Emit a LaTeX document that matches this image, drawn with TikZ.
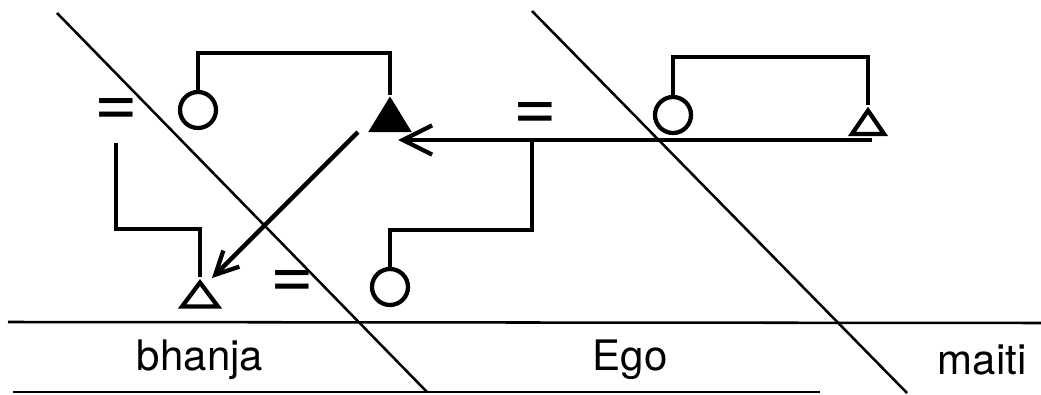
\documentclass[tikz,border=0pt]{standalone}
\usepackage{fontspec}
\setmainfont{TeX Gyre Heros}
\usetikzlibrary{shapes.geometric,arrows.meta}
\tikzset{
  female/.style = {circle, draw, line width=3.2pt, minimum size=27pt, inner sep=0pt},
  male/.style = {isosceles triangle, isosceles triangle stretches, shape border rotate=90,
    draw, line width=3.2pt, inner sep=0pt, anchor=apex},
  kin/.style = {line width=3.2pt},
  zone/.style = {line width=1.9pt},
  marr/.style = {inner sep=0pt, font=\fontsize{56}{56}\selectfont},
  lbl/.style = {inner sep=0pt, font=\fontsize{31.5}{32}\selectfont},
  barb/.style = {-{Straight Barb[length=#1, width=#1, line width=3.2pt]}}
}
\begin{document}
\begin{tikzpicture}[x=0.75pt, y=-0.75pt]
			\useasboundingbox (0,0) rectangle (1041,395);
			\draw[zone] (57,13) -- (427,392);
			\draw[zone] (532,11) -- (907,393);
			\draw[zone] (8,322) -- (1041,323);
			\draw[zone] (13,392) -- (820,392);
			\node[female] (sisL) at (198,110) {};
			\node[male, fill=black, minimum width=27pt, minimum height=22pt] (ego) at (390,95) {};
			\node[male, minimum width=27pt, minimum height=18pt] (bro) at (200,277) {};
			\node[female] (sisB) at (390,287) {};
			\node[female] (sisR) at (673,115) {};
			\node[male, minimum width=24pt, minimum height=17.5pt] (broR) at (868,105) {};
			\node[marr] (eqA) at (116,113) {=};
			\node[marr] (eqB) at (535,117) {=};
			\node[marr] (eqC) at (292,284) {=};
			\coordinate (barL) at (0,53);
			\coordinate (barR) at (0,57);
			\coordinate (lowL) at (0,229);
			\coordinate (lowR) at (0,230);
			\coordinate (mL) at (116,143);
			\coordinate (mR) at (532,140);
			\coordinate (ar) at (872,140);
			\draw[kin] (sisL.north) -- (sisL.north |- barL) -| (ego.apex);
			\draw[kin] (sisR.north) -- (sisR.north |- barR) -| (broR.apex);
			\draw[kin] (mL) |- (lowL -| bro.apex) -- (bro.apex);
			\draw[kin] (mR) |- (lowR -| sisB.north) -- (sisB.north);
			\draw[kin, barb=22pt, shorten >=6pt] (ar) -- (ar -| ego.apex);
			\draw[kin, barb=17pt, shorten <=34pt, shorten >=12.7pt]
				([yshift=-3.75pt]ego.apex) -- ([yshift=-9.75pt]bro.apex);
			\node[lbl] (bhanja) at (200,360) {bhanja};
			\node[lbl] (egoLbl) at (630,360) {Ego};
			\node[lbl] (maiti) at (982,360) {maiti};
		\end{tikzpicture}
\end{document}
